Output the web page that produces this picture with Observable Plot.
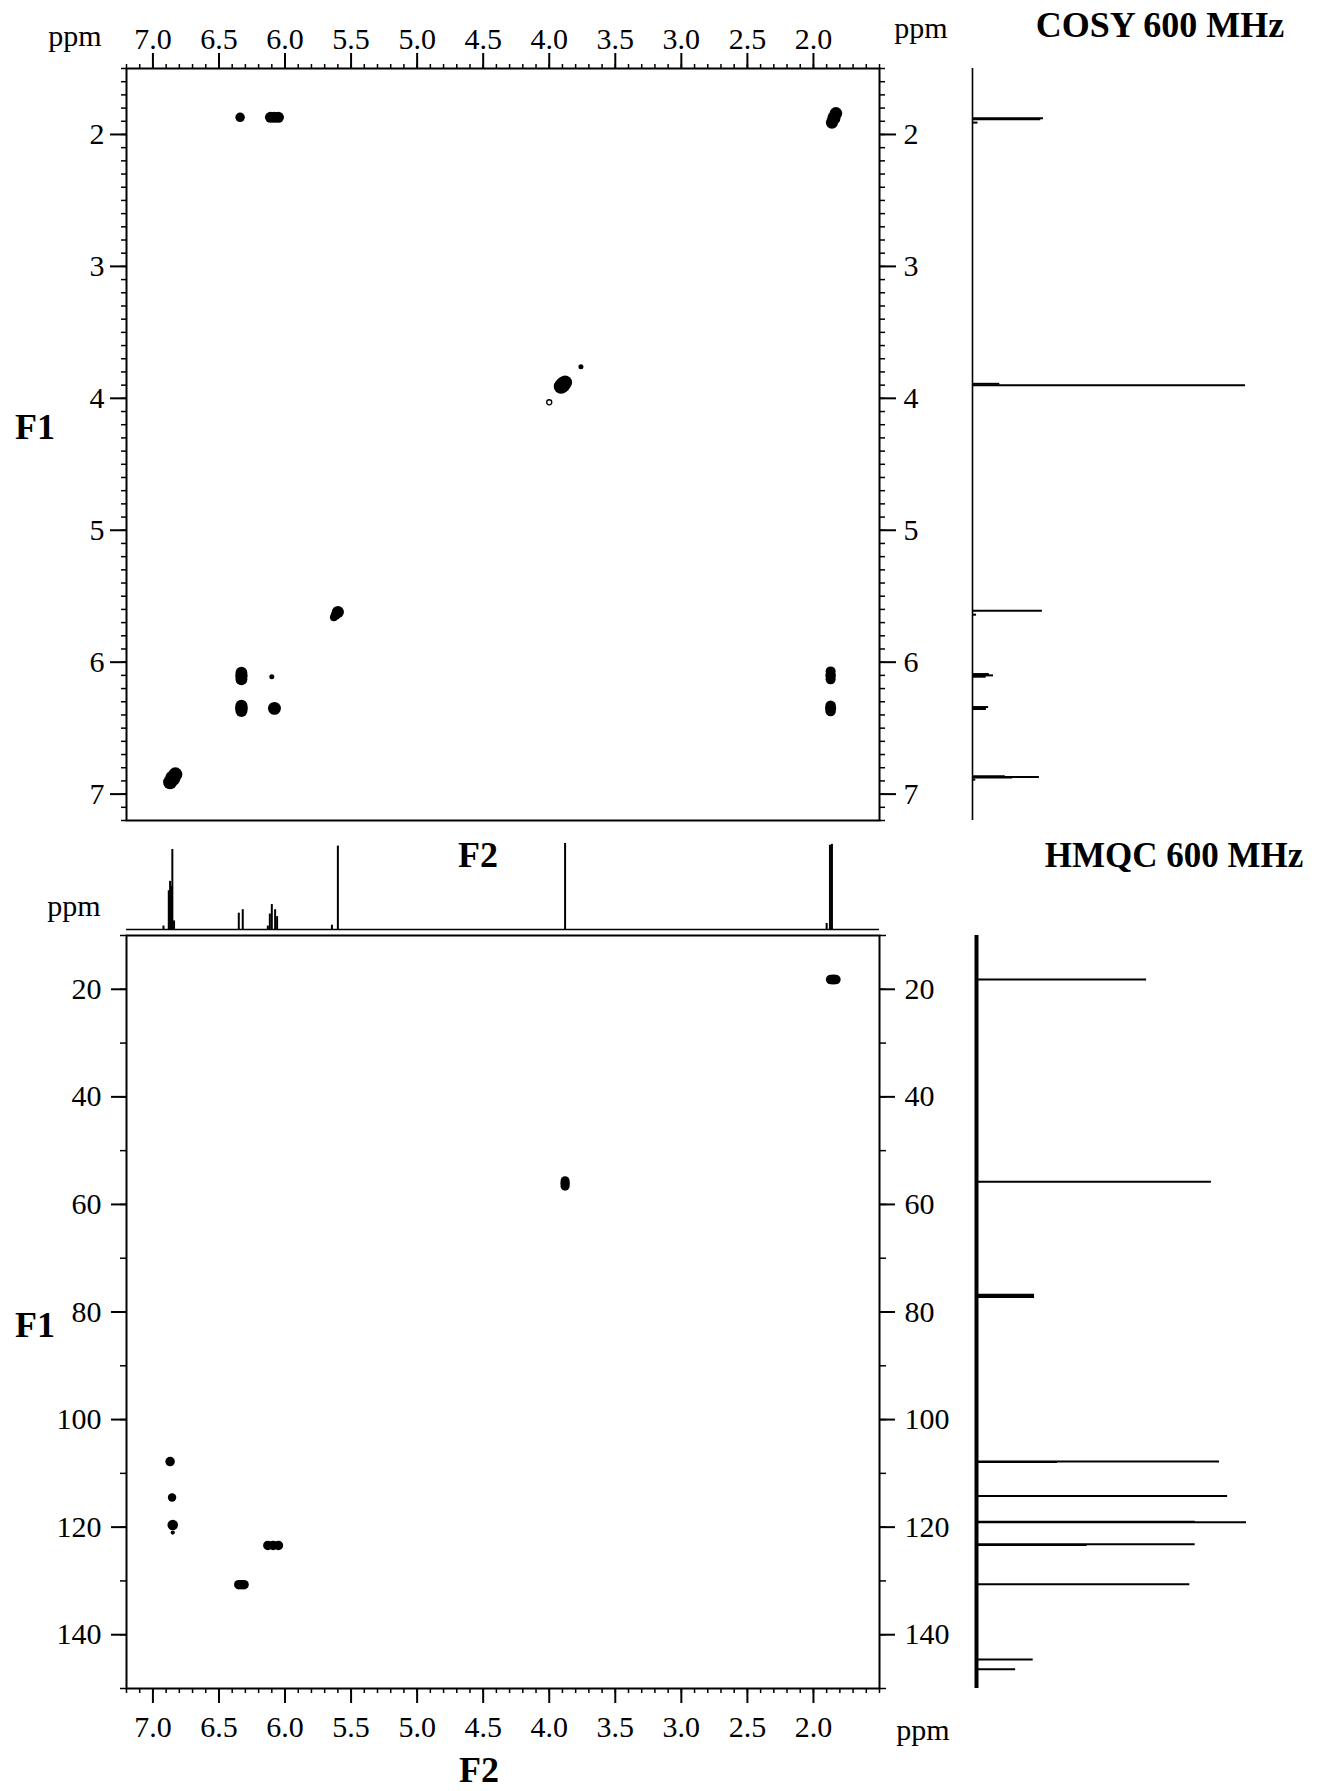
<!DOCTYPE html>
<html><head><meta charset="utf-8">
<script src="https://cdn.jsdelivr.net/npm/d3@7"></script>
<script src="https://cdn.jsdelivr.net/npm/@observablehq/plot@0.6"></script>
<style>
body{margin:0;background:#fff;}
#wrap{position:relative;width:1323px;height:1791px;background:#fff;overflow:hidden;font-family:"Liberation Serif","Times New Roman",serif;color:#000;}
.lbl{position:absolute;white-space:nowrap;line-height:1;}
</style></head><body><div id="wrap"></div>
<script>
// ---------- tick labels ----------
const f2TickLabels = [7.0, 6.5, 6.0, 5.5, 5.0, 4.5, 4.0, 3.5, 3.0, 2.5, 2.0];
const cosyF1TickLabels = [2, 3, 4, 5, 6, 7];
const hmqcF1TickLabels = [20, 40, 60, 80, 100, 120, 140];

// ---------- COSY contour peaks (F2 ppm, F1 ppm, half-width ppm) ----------
const cosyF2 = [6.34, 6.11, 6.08, 6.05, 1.83, 1.845, 1.86, 3.91, 3.895, 3.88, 3.76, 5.60, 5.615, 5.63, 6.33, 6.33, 6.33, 6.10, 1.87, 1.87, 1.87, 6.33, 6.33, 6.33, 6.08, 1.87, 1.87, 1.87, 6.83, 6.85, 6.87];
const cosyF1 = [1.87, 1.87, 1.87, 1.87, 1.84, 1.875, 1.91, 3.91, 3.895, 3.88, 3.76, 5.62, 5.64, 5.66, 6.08, 6.105, 6.13, 6.11, 6.07, 6.10, 6.13, 6.33, 6.35, 6.37, 6.35, 6.33, 6.35, 6.37, 6.85, 6.88, 6.91];
const cosyHW = [0.036, 0.042, 0.042, 0.042, 0.048, 0.050, 0.046, 0.056, 0.058, 0.053, 0.019, 0.046, 0.038, 0.030, 0.045, 0.047, 0.045, 0.019, 0.038, 0.040, 0.038, 0.046, 0.048, 0.045, 0.049, 0.040, 0.042, 0.040, 0.053, 0.058, 0.053];
const cosyOpenF2 = [4.00];
const cosyOpenF1 = [4.03];
const cosyOpenHW = [0.019];

// ---------- 1H projection (ppm, relative intensity) ----------
const hPpm = [1.860, 1.875, 1.900, 3.880, 5.600, 5.645, 6.060, 6.075, 6.100, 6.115, 6.130, 6.320, 6.350, 6.840, 6.853, 6.860, 6.870, 6.880, 6.920];
const hInt = [99, 98, 7, 100, 97, 5, 15, 23, 29, 18, 4, 23, 19, 10, 93, 50, 56, 45, 4];

// ---------- COSY F1 projection (ppm, relative intensity) ----------
const cosyProjPpm = [1.877, 1.885, 1.910, 3.890, 3.900, 5.610, 5.640, 6.090, 6.100, 6.110, 6.340, 6.355, 6.865, 6.870, 6.875, 6.890];
const cosyProjInt = [26, 25, 2, 10, 100, 25.6, 1.5, 6.2, 7.7, 5, 5.9, 5.1, 12, 24.5, 14.7, 1.2];

// ---------- HMQC peaks (F2 1H ppm, F1 13C ppm, half-width ppm F2) ----------
const hmqcF2 = [1.87, 1.85, 1.83, 3.88, 3.88, 3.88, 6.87, 6.855, 6.85, 6.85, 6.13, 6.09, 6.05, 6.35, 6.33, 6.31];
const hmqcF1 = [18.2, 18.2, 18.2, 55.6, 56.1, 56.6, 107.8, 114.5, 119.6, 121.0, 123.4, 123.4, 123.4, 130.7, 130.7, 130.7];
const hmqcHW = [0.036, 0.038, 0.036, 0.034, 0.036, 0.034, 0.036, 0.032, 0.040, 0.016, 0.036, 0.036, 0.036, 0.036, 0.036, 0.036];

// ---------- 13C projection (ppm, relative intensity) ----------
const cProjPpm = [18.2, 55.8, 76.8, 77.0, 77.2, 107.8, 107.9, 114.2, 119.0, 119.1, 123.2, 123.3, 130.6, 144.6, 146.4];
const cProjInt = [63, 87, 21.5, 21.5, 21.5, 90, 30, 93, 81, 100, 81, 41, 79, 21, 14.5];

// ---------- build tables ----------
const cosyPeaks = cosyF2.map((f2, i) => ({f2, f1: cosyF1[i], hw: cosyHW[i]}));
const cosyOpen = cosyOpenF2.map((f2, i) => ({f2, f1: cosyOpenF1[i], hw: cosyOpenHW[i]}));
const hSpec = hPpm.map((ppm, i) => ({ppm, int: hInt[i]}));
const cosyProj = cosyProjPpm.map((ppm, i) => ({ppm, int: cosyProjInt[i]}));
const hmqcPeaks = hmqcF2.map((f2, i) => ({f2, f1: hmqcF1[i], hw: hmqcHW[i]}));
const cProj = cProjPpm.map((ppm, i) => ({ppm, int: cProjInt[i]}));

const minorF2 = d3.range(15, 73).map(d => d / 10);
const minorCosyF1 = d3.range(15, 73).map(d => d / 10);
const minorHmqcF1 = d3.range(10, 151, 10);

const wrap = document.getElementById("wrap");
const baseStyle = {fontFamily: "'Liberation Serif', 'Times New Roman', serif", fontSize: "30px", background: "transparent", color: "black", overflow: "visible"};
const rScale = {type: "linear", domain: [0, 0.1], range: [0, 13.2]};
const blank = () => "";

function place(svg, left, top) {
  svg.style.position = "absolute";
  svg.style.left = left + "px";
  svg.style.top = top + "px";
  wrap.appendChild(svg);
}

// COSY main
place(Plot.plot({
  width: 960, height: 830, marginLeft: 126, marginRight: 81, marginTop: 68, marginBottom: 10,
  style: baseStyle,
  x: {domain: [7.2, 1.5]},
  y: {domain: [7.2, 1.5]},
  r: rScale,
  marks: [
    Plot.axisX({anchor: "top", ticks: minorF2, tickSize: 5, tickFormat: blank, strokeWidth: 1.5, label: null}),
    Plot.axisX({anchor: "top", ticks: f2TickLabels, tickSize: 16, tickPadding: 4, tickFormat: d => d.toFixed(1), strokeWidth: 2, label: null}),
    Plot.axisY({anchor: "left", ticks: minorCosyF1, tickSize: 5, tickFormat: blank, strokeWidth: 1.5, label: null}),
    Plot.axisY({anchor: "left", ticks: cosyF1TickLabels, tickSize: 16, tickPadding: 6, tickFormat: d => String(d), strokeWidth: 2, label: null}),
    Plot.axisY({anchor: "right", ticks: minorCosyF1, tickSize: 5, tickFormat: blank, strokeWidth: 1.5, label: null}),
    Plot.axisY({anchor: "right", ticks: cosyF1TickLabels, tickSize: 16, tickPadding: 8, tickFormat: d => String(d), strokeWidth: 2, label: null}),
    Plot.frame({strokeWidth: 2}),
    Plot.dot(cosyPeaks, {x: "f2", y: "f1", r: "hw", fill: "black", stroke: "none"}),
    Plot.dot(cosyOpen, {x: "f2", y: "f1", r: "hw", fill: "white", stroke: "black", strokeWidth: 1.3})
  ]
}), 0, 0);

// COSY F1 projection (right)
place(Plot.plot({
  width: 300, height: 830, marginLeft: 12, marginRight: 15, marginTop: 68, marginBottom: 10,
  style: baseStyle,
  x: {domain: [0, 100], axis: null},
  y: {domain: [7.2, 1.5], axis: null},
  marks: [
    Plot.ruleX([0], {strokeWidth: 1.6}),
    Plot.ruleY(cosyProj, {y: "ppm", x1: 0, x2: "int", strokeWidth: 2})
  ]
}), 960, 0);

// 1H projection (between)
place(Plot.plot({
  width: 960, height: 100, marginLeft: 126, marginRight: 81, marginTop: 8, marginBottom: 6,
  style: baseStyle,
  x: {domain: [7.2, 1.5], axis: null},
  y: {domain: [0, 100], axis: null},
  marks: [
    Plot.ruleY([0], {strokeWidth: 1.5}),
    Plot.ruleX(hSpec, {x: "ppm", y1: 0, y2: "int", strokeWidth: 2})
  ]
}), 0, 835);

// HMQC main
place(Plot.plot({
  width: 960, height: 911, marginLeft: 126, marginRight: 81, marginTop: 55, marginBottom: 103,
  style: baseStyle,
  x: {domain: [7.2, 1.5]},
  y: {domain: [150, 10]},
  r: rScale,
  marks: [
    Plot.axisX({anchor: "bottom", ticks: minorF2, tickSize: 5, tickFormat: blank, strokeWidth: 1.5, label: null}),
    Plot.axisX({anchor: "bottom", ticks: f2TickLabels, tickSize: 15, tickPadding: 12, tickFormat: d => d.toFixed(1), strokeWidth: 2, label: null}),
    Plot.axisY({anchor: "left", ticks: minorHmqcF1, tickSize: 6, tickFormat: blank, strokeWidth: 1.5, label: null}),
    Plot.axisY({anchor: "left", ticks: hmqcF1TickLabels, tickSize: 15, tickPadding: 10, tickFormat: d => String(d), strokeWidth: 2, label: null}),
    Plot.axisY({anchor: "right", ticks: minorHmqcF1, tickSize: 6, tickFormat: blank, strokeWidth: 1.5, label: null}),
    Plot.axisY({anchor: "right", ticks: hmqcF1TickLabels, tickSize: 15, tickPadding: 10, tickFormat: d => String(d), strokeWidth: 2, label: null}),
    Plot.frame({strokeWidth: 2}),
    Plot.dot(hmqcPeaks, {x: "f2", y: "f1", r: "hw", fill: "black", stroke: "none"})
  ]
}), 0, 880);

// 13C projection (right)
place(Plot.plot({
  width: 300, height: 911, marginLeft: 16, marginRight: 14, marginTop: 55, marginBottom: 103,
  style: baseStyle,
  x: {domain: [0, 100], axis: null},
  y: {domain: [150, 10], axis: null},
  marks: [
    Plot.ruleX([0], {strokeWidth: 4}),
    Plot.ruleY(cProj, {y: "ppm", x1: 0, x2: "int", strokeWidth: 2})
  ]
}), 960, 880);

// ---------- text labels ----------
function label(text, x, baseline, size, bold) {
  const d = document.createElement("div");
  d.className = "lbl";
  d.textContent = text;
  d.style.fontSize = size + "px";
  d.style.fontWeight = bold ? "bold" : "normal";
  d.style.top = (baseline - 0.8375 * size) + "px";
  d.style.left = x + "px";
  d.style.transform = "translateX(-50%)";
  wrap.appendChild(d);
}
label("ppm", 75, 46, 30, false);
label("ppm", 921, 38, 30, false);
label("COSY 600 MHz", 1160, 37, 36, true);
label("F1", 35, 439, 36, true);
label("F2", 478, 867, 36, true);
label("HMQC 600 MHz", 1174, 867, 35, true);
label("ppm", 74, 916, 30, false);
label("F1", 35, 1337, 36, true);
label("ppm", 923, 1740, 30, false);
label("F2", 479, 1782, 36, true);
</script>
</body></html>
